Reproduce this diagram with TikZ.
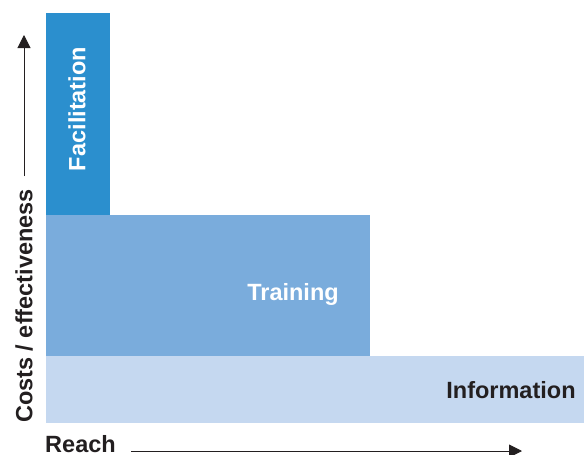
\documentclass[tikz,border=0pt]{standalone}
\usepackage{fontspec}
\setmainfont{Liberation Sans}
\usetikzlibrary{arrows.meta}
\definecolor{facil}{HTML}{2B8FCE}
\definecolor{train}{HTML}{7AACDC}
\definecolor{info}{HTML}{C5D8F0}
\definecolor{ink}{HTML}{231F20}
\begin{document}
\begin{tikzpicture}[x=1pt,y=-1pt,
  lbl/.style={font=\fontsize{23.5}{28}\selectfont\bfseries, inner sep=0pt},
  axisarrow/.style={draw=ink, line width=1pt, -{Triangle[length=13pt,width=13pt]}}]
\useasboundingbox (0,0) rectangle (584,455);
\fill[info]  (46,356) rectangle (584,423);
\fill[train] (46,215) rectangle (370,356);
\fill[facil] (46,13) rectangle (110,215);
\node[lbl, white, rotate=90] (facilitation) at (77,109) {Facilitation};
\node[lbl, white] (training) at (293,294) {Training};
\node[lbl, ink] (information) at (511,390) {Information};
\node[lbl, ink] (reach) at (80.5,444.5) {Reach};
\node[lbl, ink, rotate=90] (costs) at (24,306) {Costs / effectiveness};
\coordinate (vstart) at (24,176);
\coordinate (vend) at (24,35);
\coordinate (hstart) at (131,451);
\coordinate (hend) at (522,451);
\draw[axisarrow] (vstart) -- (vend);
\draw[axisarrow] (hstart) -- (hend);
\end{tikzpicture}
\end{document}
